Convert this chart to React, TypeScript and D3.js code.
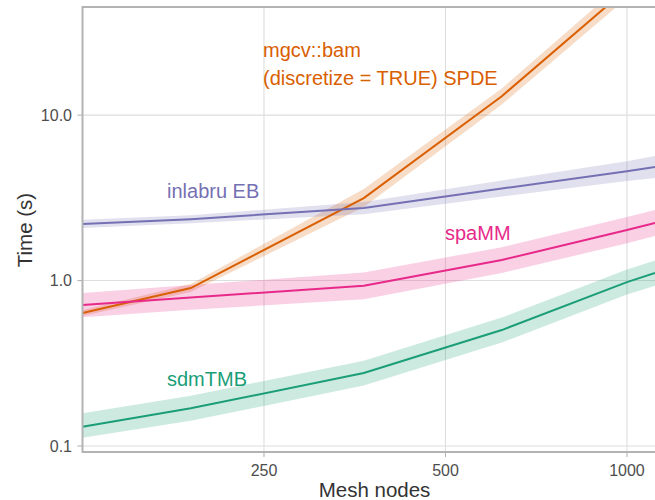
import React from "react";
import * as d3 from "d3";

const meshNodes = [125, 189, 366, 620, 1000, 1113];

const mgcvMean = [0.636, 0.901, 3.15, 13.0, 58, 80];
const mgcvLo = [0.61, 0.852, 2.78, 11.6, 51, 70];
const mgcvHi = [0.663, 0.952, 3.57, 14.5, 66, 91];

const inlabruMean = [2.2, 2.35, 2.74, 3.6, 4.58, 4.85];
const inlabruLo = [2.08, 2.22, 2.52, 3.22, 3.99, 4.16];
const inlabruHi = [2.33, 2.48, 2.98, 4.02, 5.26, 5.65];

const spammMean = [0.711, 0.79, 0.93, 1.33, 2.02, 2.23];
const spammLo = [0.6, 0.665, 0.77, 1.11, 1.68, 1.86];
const spammHi = [0.84, 0.94, 1.12, 1.59, 2.42, 2.67];

const sdmMean = [0.1306, 0.169, 0.276, 0.502, 0.979, 1.11];
const sdmLo = [0.112, 0.142, 0.232, 0.422, 0.823, 0.93];
const sdmHi = [0.158, 0.201, 0.328, 0.597, 1.165, 1.32];

const xTicks = [250, 500, 1000];
const yTicks = [0.1, 1, 10];
const yTickLabels = ["0.1", "1.0", "10.0"];

const seriesNames = ["mgcv", "inlabru", "spaMM", "sdmTMB"];
const seriesColors = ["#d95f02", "#7570b3", "#e7298a", "#1b9e77"];

const W = 655;
const H = 500;
const left = 82.5;
const right = 655;
const top = 7;
const bottom = 452;

export default function App() {
  const x = d3.scaleLog().domain([125, 1113]).range([left, right]);
  const y = d3.scaleLog().domain([0.092, 45]).range([bottom, top]);

  const series = [
    { mean: mgcvMean, lo: mgcvLo, hi: mgcvHi },
    { mean: inlabruMean, lo: inlabruLo, hi: inlabruHi },
    { mean: spammMean, lo: spammLo, hi: spammHi },
    { mean: sdmMean, lo: sdmLo, hi: sdmHi },
  ];

  const line = d3
    .line<number>()
    .x((_, i) => x(meshNodes[i]))
    .y((d) => y(d));

  const area = (lo: number[], hi: number[]) =>
    d3
      .area<number>()
      .x((_, i) => x(meshNodes[i]))
      .y0((_, i) => y(lo[i]))
      .y1((_, i) => y(hi[i]))(meshNodes);

  const font = "'Liberation Sans', Arial, Helvetica, sans-serif";

  return (
    <svg
      width={W}
      height={H}
      style={{ position: "absolute", left: 0, top: 0, background: "#fff" }}
      fontFamily={font}
    >
      <defs>
        <clipPath id="panel">
          <rect x={left} y={top} width={right - left + 5} height={bottom - top} />
        </clipPath>
      </defs>
      <rect x={0} y={0} width={W} height={H} fill="#fff" />
      {/* grid */}
      {xTicks.map((t) => (
        <line key={"gx" + t} x1={x(t)} x2={x(t)} y1={top} y2={bottom} stroke="#dedede" strokeWidth={1.1} />
      ))}
      {yTicks.map((t) => (
        <line key={"gy" + t} x1={left} x2={right + 5} y1={y(t)} y2={y(t)} stroke="#dedede" strokeWidth={1.1} />
      ))}
      <g clipPath="url(#panel)">
        {series.map((s, k) => (
          <path key={"a" + k} d={area(s.lo, s.hi) || ""} fill={seriesColors[k]} fillOpacity={0.22} stroke="none" />
        ))}
        {series.map((s, k) => (
          <path key={"l" + k} d={line(s.mean) || ""} fill="none" stroke={seriesColors[k]} strokeWidth={2} />
        ))}
      </g>
      {/* panel border */}
      <rect x={left} y={top} width={right - left + 3} height={bottom - top} fill="none" stroke="#b3b3b3" strokeWidth={2} />
      {/* ticks */}
      {yTicks.map((t, i) => (
        <g key={"ty" + t}>
          <line x1={left - 5} x2={left} y1={y(t)} y2={y(t)} stroke="#b3b3b3" strokeWidth={1.1} />
          <text x={left - 10.5} y={y(t)} dy="0.36em" textAnchor="end" fontSize={16} fill="#4d4d4d">
            {yTickLabels[i]}
          </text>
        </g>
      ))}
      {xTicks.map((t) => (
        <g key={"tx" + t}>
          <line x1={x(t)} x2={x(t)} y1={bottom} y2={bottom + 5} stroke="#b3b3b3" strokeWidth={1.1} />
          <text x={x(t)} y={476} textAnchor="middle" fontSize={16} fill="#4d4d4d">
            {t}
          </text>
        </g>
      ))}
      {/* axis titles */}
      <text x={374.5} y={497} textAnchor="middle" fontSize={20.5} fill="#333">
        Mesh nodes
      </text>
      <text
        transform={`translate(32,230) rotate(-90)`}
        textAnchor="middle"
        fontSize={20.5}
        fill="#333"
      >
        Time (s)
      </text>
      {/* series labels */}
      <text x={263} y={57} fontSize={20} fill={seriesColors[0]}>
        mgcv::bam
      </text>
      <text x={263} y={85} fontSize={20} fill={seriesColors[0]}>
        (discretize = TRUE) SPDE
      </text>
      <text x={167} y={198} fontSize={20} fill={seriesColors[1]}>
        inlabru EB
      </text>
      <text x={445} y={240} fontSize={20} fill={seriesColors[2]}>
        spaMM
      </text>
      <text x={167} y={386} fontSize={20} fill={seriesColors[3]}>
        sdmTMB
      </text>
    </svg>
  );
}
